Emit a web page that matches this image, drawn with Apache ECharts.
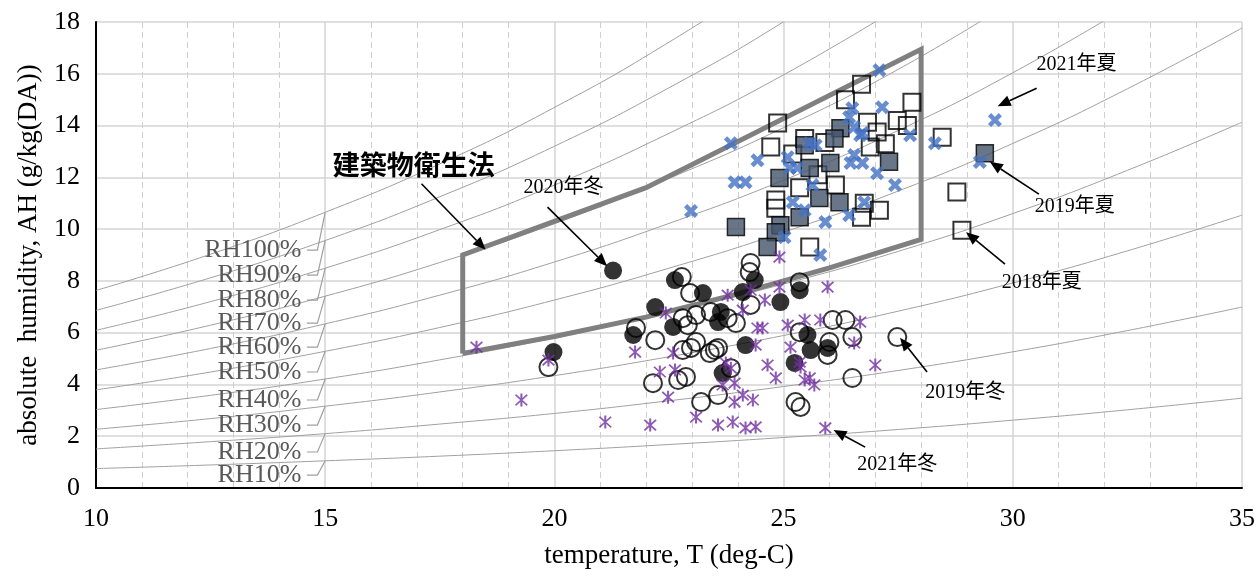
<!DOCTYPE html>
<html><head><meta charset="utf-8">
<script src="https://cdn.jsdelivr.net/npm/echarts@6/dist/echarts.min.js"></script>
<style>html,body{margin:0;padding:0;background:#fff}#c{width:1258px;height:576px}</style>
</head><body><div id="c"></div>
<script>
// RH curve values (g/kg(DA)) at these temperatures
const rhTemps = [10, 12.5, 15, 17.5, 20, 22.5, 25, 27.5, 30, 32.5, 35];
const rh100 = [7.63, 9.03, 10.65, 12.52, 14.70, 17.22, 20.08];
const rh90 = [6.86, 8.12, 9.56, 11.25, 13.20, 15.46, 18.01, 20.95];
const rh80 = [6.09, 7.20, 8.49, 9.98, 11.70, 13.70, 15.96, 18.55];
const rh70 = [5.32, 6.29, 7.41, 8.71, 10.21, 11.96, 13.92, 16.17, 18.80];
const rh60 = [4.56, 5.39, 6.34, 7.45, 8.73, 10.22, 11.89, 13.81, 16.04, 18.59];
const rh50 = [3.79, 4.48, 5.28, 6.20, 7.26, 8.49, 9.88, 11.47, 13.31, 15.42, 17.77];
const rh40 = [3.03, 3.58, 4.21, 4.95, 5.80, 6.78, 7.88, 9.14, 10.60, 12.27, 14.13];
const rh30 = [2.27, 2.68, 3.16, 3.71, 4.34, 5.07, 5.89, 6.83, 7.92, 9.16, 10.54];
const rh20 = [1.51, 1.79, 2.10, 2.47, 2.88, 3.37, 3.92, 4.54, 5.26, 6.08, 6.99];
const rh10 = [0.75, 0.89, 1.05, 1.23, 1.44, 1.68, 1.95, 2.26, 2.62, 3.02, 3.47];
const rhNames = ['RH100%', 'RH90%', 'RH80%', 'RH70%', 'RH60%', 'RH50%', 'RH40%', 'RH30%', 'RH20%', 'RH10%'];
const rhLabelY = [9.19, 8.22, 7.26, 6.37, 5.44, 4.48, 3.40, 2.43, 1.39, 0.50];

// 建築物衛生法 region outline
const bldgT = [18, 18, 22, 28, 28, 26, 24, 22, 20, 18];
const bldgAH = [5.2, 9.0, 11.6, 16.95, 9.6, 8.5, 7.5, 6.6, 5.85, 5.2];

// measurements [T, AH]
const summer2018 = [[26.7,15.6],[26.35,15.0],[24.87,14.1],[24.72,13.17],[25.46,13.5],[27.8,14.9],[27.48,14.2],[27.7,14.0],[28.46,13.55],[26.83,14.13],[27.04,13.75],[27.22,13.3],[26.89,13.17],[26.13,11.7],[24.83,11.12],[24.83,10.81],[26.7,10.46],[26.76,11.0],[27.09,10.73],[28.78,11.43],[28.89,9.96],[25.57,9.31],[25.2,12.9],[25.9,13.35],[25.35,11.6],[25.75,12.1]];
const summer2019 = [[26.24,13.9],[26.11,13.5],[25.46,13.24],[26.02,12.55],[24.91,11.97],[25.57,12.36],[25.78,11.2],[26.22,11.04],[25.35,10.46],[23.96,10.08],[24.93,10.15],[24.83,9.88],[24.65,9.31],[27.3,12.6],[29.39,12.93]];
const summer2021 = [[27.09,16.14],[26.5,14.67],[26.43,14.32],[23.85,13.32],[26.54,13.94],[26.67,13.63],[25.57,13.32],[25.7,13.24],[24.43,12.66],[25.09,12.78],[26.54,12.86],[27.15,14.71],[27.76,13.63],[28.3,13.32],[29.61,14.21],[29.28,12.59],[26.72,13.71],[23.93,11.81],[24.17,11.81],[25.13,12.36],[25.3,12.36],[26.46,12.55],[26.72,12.55],[25.63,11.7],[25.2,11.04],[25.46,10.73],[25.91,10.27],[26.43,10.54],[25.02,9.69],[25.8,9.0],[27.04,12.16],[27.43,11.7],[26.76,11.04],[22.98,10.7]];
const winter2019 = [[24.28,8.69],[24.26,8.34],[22.78,8.15],[22.96,7.53],[24.28,7.07],[22.8,6.56],[23.09,6.68],[23.41,6.8],[23.78,6.56],[23.96,6.37],[22.91,6.29],[21.78,6.18],[22.2,5.71],[23.09,5.64],[22.8,5.33],[23.5,5.33],[25.35,7.95],[26.07,6.49],[26.35,6.49],[25.35,6.02],[26.5,5.83],[26.0,5.64],[27.48,5.83],[19.87,4.67],[22.98,5.41],[23.39,5.21],[23.57,5.41],[22.15,4.05],[22.7,4.17],[22.87,4.29],[23.85,4.63],[23.2,3.32],[23.57,3.59],[25.96,5.14],[26.5,4.25],[25.26,3.32],[25.37,3.13]];
const winter2020 = [[21.28,8.4],[19.98,5.25],[21.72,5.91],[22.63,8.03],[23.24,7.53],[24.11,7.57],[24.37,8.03],[22.2,6.99],[23.63,6.8],[23.57,6.41],[22.59,6.22],[24.17,5.52],[25.35,7.64],[24.93,7.18],[25.52,5.91],[25.96,5.41],[25.59,5.33],[23.67,4.44],[25.24,4.83]];
const winter2021 = [[18.3,5.44],[19.87,4.94],[19.28,3.4],[21.11,2.55],[22.09,2.43],[21.76,5.25],[22.59,5.21],[22.43,6.76],[23.78,7.45],[24.28,7.64],[24.59,7.26],[24.11,6.87],[24.43,6.18],[24.54,6.18],[24.39,5.52],[24.91,8.92],[24.91,7.76],[25.96,7.76],[26.67,6.41],[25.46,6.49],[25.8,6.49],[25.09,6.29],[26.54,5.6],[25.15,5.44],[22.3,4.48],[22.63,4.56],[23.74,4.83],[23.85,4.63],[24.65,4.75],[24.83,4.25],[23.67,3.98],[23.93,4.05],[24.11,3.59],[23.93,3.32],[24.33,3.4],[22.48,3.51],[23.09,2.74],[23.57,2.43],[23.89,2.55],[24.17,2.32],[24.39,2.36],[25.35,4.86],[25.37,4.67],[27.0,4.75],[25.46,4.17],[25.57,4.25],[25.67,3.98],[25.91,2.32]];

// annotations: text, text position, arrow start, arrow end
const annoText = ['建築物衛生法', '2020年冬', '2021年夏', '2019年夏', '2018年夏', '2019年冬', '2021年冬'];
const annoTextPos = [[16.93,12.47],[20.2,11.58],[31.39,16.33],[31.35,10.85],[30.63,7.92],[28.96,3.67],[27.48,0.89]];
const annoFrom = [[17.1,11.75],[19.85,10.85],[30.52,15.44],[30.57,11.35],[29.83,8.65],[28.13,4.48],[26.78,1.58]];
const annoTo = [[18.5,9.2],[21.15,8.57],[29.67,14.75],[29.5,12.6],[28.98,9.88],[27.54,5.8],[26.09,2.24]];

const rhCurves = [rh100, rh90, rh80, rh70, rh60, rh50, rh40, rh30, rh20, rh10];
const serif = '"Liberation Serif", "Times New Roman", "Noto Sans CJK JP", serif';
const X_PATH = 'path://M0,2.3L2.3,0L10,7.7L7.7,10Z M7.7,0L10,2.3L2.3,10L0,7.7Z';
const AST_PATH = 'path://M4.3,0L5.7,0L5.7,10L4.3,10Z M0.5,1.4L1.4,0.5L9.5,8.6L8.6,9.5Z M8.6,0.5L9.5,1.4L1.4,9.5L0.5,8.6Z';

const series = [];
rhCurves.forEach((c, i) => {
  series.push({
    type: 'line', name: rhNames[i], data: c.map((v, j) => [rhTemps[j], v]),
    smooth: true, symbol: 'none', clip: true, silent: true,
    lineStyle: { color: '#a0a0a0', width: 1 }, z: 1
  });
});
series.push({
  type: 'custom', name: 'rhLabels', silent: true, z: 2,
  data: rhLabelY.map((y, i) => [y, rhCurves[i][2]]),
  renderItem: function (params, api) {
    const ly = api.value(0), cy = api.value(1);
    const t = api.coord([14.48, ly]);
    const a = api.coord([14.6, ly]);
    const b = api.coord([14.83, ly]);
    const c = api.coord([15.0, cy]);
    return { type: 'group', children: [
      { type: 'polyline', shape: { points: [a, b, c] }, style: { stroke: '#a0a0a0', lineWidth: 1.2, fill: null } },
      { type: 'text', style: { text: rhNames[params.dataIndex], x: t[0], y: t[1], align: 'right', verticalAlign: 'middle',
        fill: '#595959', fontSize: 26, fontFamily: serif } }
    ]};
  }
});
series.push({
  type: 'line', name: 'bldg', data: bldgT.map((t, i) => [t, bldgAH[i]]), symbol: 'none', silent: true,
  lineStyle: { color: '#808080', width: 5, join: 'miter' }, z: 3
});
series.push({ type: 'scatter', name: '2018年夏', data: summer2018, symbol: 'rect', symbolSize: 17,
  itemStyle: { color: 'rgba(255,255,255,0)', borderColor: '#000', borderWidth: 2 }, z: 4 });
series.push({ type: 'scatter', name: '2019年夏', data: summer2019, symbol: 'rect', symbolSize: 17,
  itemStyle: { color: '#44546A', borderColor: '#000', borderWidth: 1.5 }, z: 4 });
series.push({ type: 'scatter', name: '2021年夏', data: summer2021, symbol: X_PATH, symbolSize: 14,
  itemStyle: { color: '#4472C4' }, z: 4 });
series.push({ type: 'scatter', name: '2020年冬', data: winter2020, symbol: 'circle', symbolSize: 18,
  itemStyle: { color: '#000' }, z: 4 });
series.push({ type: 'scatter', name: '2019年冬', data: winter2019, symbol: 'circle', symbolSize: 18,
  itemStyle: { color: 'rgba(255,255,255,0)', borderColor: '#000', borderWidth: 2 }, z: 4 });
series.push({ type: 'scatter', name: '2021年冬', data: winter2021, symbol: AST_PATH, symbolSize: 13,
  itemStyle: { color: '#7030A0' }, z: 5 });
series.push({
  type: 'custom', name: 'annotations', silent: true, z: 6,
  data: annoText.map((s, i) => [annoTextPos[i][0], annoTextPos[i][1], annoFrom[i][0], annoFrom[i][1], annoTo[i][0], annoTo[i][1]]),
  renderItem: function (params, api) {
    const i = params.dataIndex;
    const tp = api.coord([api.value(0), api.value(1)]);
    const p1 = api.coord([api.value(2), api.value(3)]);
    const p2 = api.coord([api.value(4), api.value(5)]);
    const dx = p2[0] - p1[0], dy = p2[1] - p1[1];
    const L = Math.sqrt(dx * dx + dy * dy);
    const ux = dx / L, uy = dy / L, nx = -uy, ny = ux;
    const hl = 13, hw = 5.5;
    const bx = p2[0] - ux * hl, by = p2[1] - uy * hl;
    const big = i === 0;
    return { type: 'group', children: [
      { type: 'line', shape: { x1: p1[0], y1: p1[1], x2: bx, y2: by }, style: { stroke: '#000', lineWidth: 1.6 } },
      { type: 'polygon', shape: { points: [p2, [bx + nx * hw, by + ny * hw], [bx - nx * hw, by - ny * hw]] }, style: { fill: '#000' } },
      { type: 'text', style: { text: annoText[i], x: tp[0], y: tp[1], align: 'center', verticalAlign: 'middle',
        fill: '#000', fontSize: big ? 27 : 20, fontWeight: big ? 'bold' : 'normal',
        fontFamily: big ? '"Noto Sans CJK JP", sans-serif' : serif } }
    ]};
  }
});

const chart = echarts.init(document.getElementById('c'), null, { renderer: 'canvas' });
chart.setOption({
  animation: false,
  grid: { left: 96, right: 14, top: 22, bottom: 88, containLabel: false },
  xAxis: {
    type: 'value', min: 10, max: 35, interval: 5,
    name: 'temperature, T (deg-C)', nameLocation: 'middle', nameGap: 54,
    nameTextStyle: { fontFamily: serif, fontSize: 27, color: '#000' },
    axisLine: { show: true, onZero: false, lineStyle: { color: '#000', width: 2 } },
    axisTick: { show: false },
    axisLabel: { fontFamily: serif, fontSize: 26, color: '#000', margin: 18 },
    splitLine: { show: true, lineStyle: { color: '#d4d4d4', width: 1.5 } },
    minorTick: { show: false, splitNumber: 5 },
    minorSplitLine: { show: true, lineStyle: { color: '#cfcfcf', type: [6, 4], width: 1 } }
  },
  yAxis: {
    type: 'value', min: 0, max: 18, interval: 2,
    name: 'absolute  humidity, AH (g/kg(DA))', nameLocation: 'middle', nameGap: 54, nameRotate: 90,
    nameTextStyle: { fontFamily: serif, fontSize: 27, color: '#000' },
    axisLine: { show: true, onZero: false, lineStyle: { color: '#000', width: 2 } },
    axisTick: { show: false },
    axisLabel: { fontFamily: serif, fontSize: 26, color: '#000', margin: 16 },
    splitLine: { show: true, lineStyle: { color: '#d4d4d4', width: 1.5 } }
  },
  series: series
});
</script>
</body></html>
